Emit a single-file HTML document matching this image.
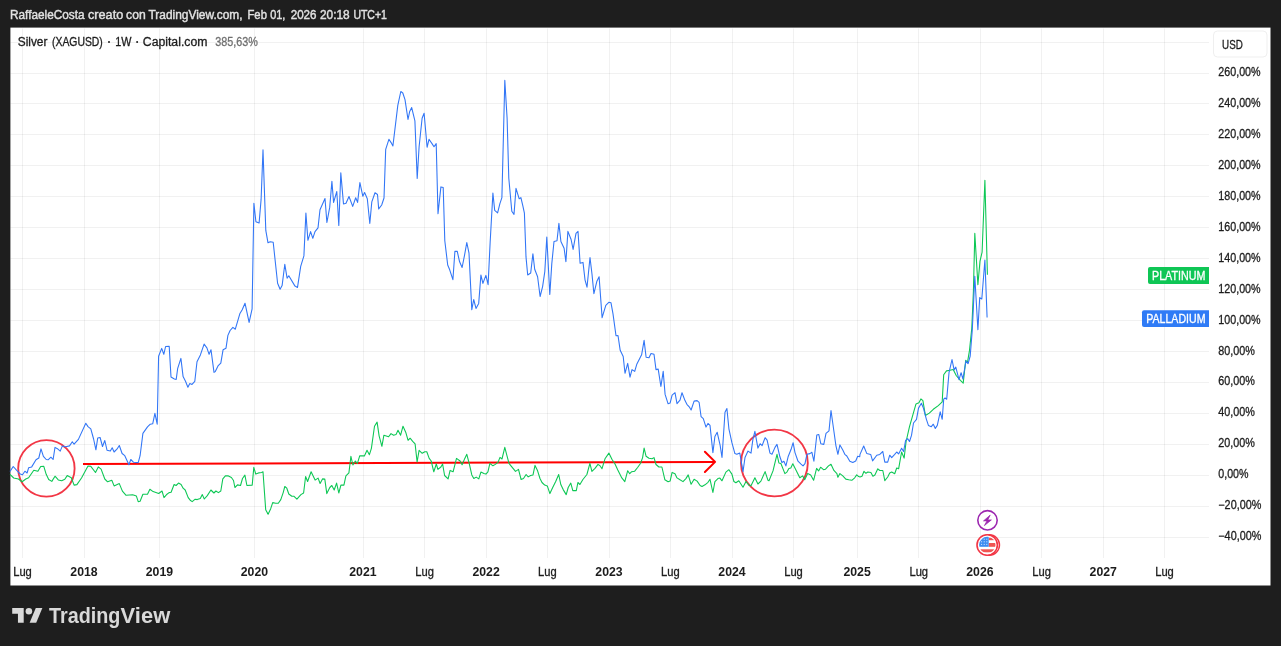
<!DOCTYPE html>
<html><head><meta charset="utf-8"><title>Chart</title>
<style>
html,body{margin:0;padding:0;background:#1e1e1e;}
body{width:1281px;height:646px;overflow:hidden;font-family:"Liberation Sans",sans-serif;}
svg{display:block;will-change:transform;}
text{font-family:"Liberation Sans",sans-serif;}
</style></head><body>
<svg width="1281" height="646" viewBox="0 0 1281 646">
<rect x="0" y="0" width="1281" height="646" fill="#1e1e1e"/>
<rect x="10.4" y="27.6" width="1260.1" height="557.9" fill="#ffffff"/>
<g stroke="#000000" stroke-opacity="0.054" stroke-width="1" fill="none">
<line x1="22.5" y1="28.5" x2="22.5" y2="558"/>
<line x1="84.5" y1="28.5" x2="84.5" y2="558"/>
<line x1="159.5" y1="28.5" x2="159.5" y2="558"/>
<line x1="254.5" y1="28.5" x2="254.5" y2="558"/>
<line x1="363.5" y1="28.5" x2="363.5" y2="558"/>
<line x1="424.5" y1="28.5" x2="424.5" y2="558"/>
<line x1="486.5" y1="28.5" x2="486.5" y2="558"/>
<line x1="547.5" y1="28.5" x2="547.5" y2="558"/>
<line x1="609.5" y1="28.5" x2="609.5" y2="558"/>
<line x1="670.5" y1="28.5" x2="670.5" y2="558"/>
<line x1="732.5" y1="28.5" x2="732.5" y2="558"/>
<line x1="793.5" y1="28.5" x2="793.5" y2="558"/>
<line x1="857.5" y1="28.5" x2="857.5" y2="558"/>
<line x1="918.5" y1="28.5" x2="918.5" y2="558"/>
<line x1="980.5" y1="28.5" x2="980.5" y2="558"/>
<line x1="1041.5" y1="28.5" x2="1041.5" y2="558"/>
<line x1="1103.5" y1="28.5" x2="1103.5" y2="558"/>
<line x1="1164.5" y1="28.5" x2="1164.5" y2="558"/>
<line x1="10.5" y1="42.5" x2="1209" y2="42.5"/>
<line x1="10.5" y1="73.5" x2="1209" y2="73.5"/>
<line x1="10.5" y1="103.5" x2="1209" y2="103.5"/>
<line x1="10.5" y1="134.5" x2="1209" y2="134.5"/>
<line x1="10.5" y1="165.5" x2="1209" y2="165.5"/>
<line x1="10.5" y1="196.5" x2="1209" y2="196.5"/>
<line x1="10.5" y1="227.5" x2="1209" y2="227.5"/>
<line x1="10.5" y1="258.5" x2="1209" y2="258.5"/>
<line x1="10.5" y1="289.5" x2="1209" y2="289.5"/>
<line x1="10.5" y1="320.5" x2="1209" y2="320.5"/>
<line x1="10.5" y1="351.5" x2="1209" y2="351.5"/>
<line x1="10.5" y1="382.5" x2="1209" y2="382.5"/>
<line x1="10.5" y1="413.5" x2="1209" y2="413.5"/>
<line x1="10.5" y1="444.5" x2="1209" y2="444.5"/>
<line x1="10.5" y1="475.5" x2="1209" y2="475.5"/>
<line x1="10.5" y1="506.5" x2="1209" y2="506.5"/>
<line x1="10.5" y1="537.5" x2="1209" y2="537.5"/>
</g>
<g fill="none" stroke="#f23645" stroke-width="1.85">
<circle cx="46.4" cy="468.4" r="28.2"/>
<circle cx="774.4" cy="463" r="33.4"/>
</g>
<g fill="none" stroke="#ff0000" stroke-width="2" stroke-linecap="butt" stroke-linejoin="miter">
<line x1="83" y1="464" x2="714.5" y2="461.9"/>
<path d="M704.9,451.7 L715.1,461.85 L704.9,472" stroke-linecap="round" stroke-linejoin="round"/>
</g>
<path d="M10,474.3 L13.7,478 L18.4,479 L22.1,481.8 L25.8,479 L28.6,477.7 L33.8,470.2 L37.9,471.2 L40.7,466.5 L43.8,466.3 L46.2,474.3 L48.7,479.5 L51.8,481.4 L55,476.2 L58.3,479.9 L61.7,480.8 L64.8,479.3 L67.2,475.6 L71.3,477.7 L74.1,485.1 L76.9,484.6 L81.5,478 L88,466 L90.8,466.3 L95.5,472.5 L98.3,466.9 L101.1,469.1 L104.8,479 L107.6,481.8 L111.8,480.3 L114.1,485.9 L119.3,483.6 L122.4,491.1 L126.1,495.3 L132.6,494.8 L136.4,496.1 L138.2,501.6 L140.1,501.3 L142.9,494.2 L147.5,494.2 L149.9,489.2 L153.1,491.6 L158.7,493.5 L162,491 L164,497.6 L167,494.2 L169.1,492.6 L171.1,492.2 L174.1,484.5 L176.1,485.5 L178.5,483.1 L181.1,484.5 L183.1,488.2 L185.2,490 L188.2,497.6 L190.2,500.2 L192.2,501.6 L195.2,499.2 L197.2,499.6 L200.3,498.6 L202.3,494.6 L204.3,499 L207.3,495.6 L210.9,490 L213.9,493 L215.9,491 L218.4,492.6 L220.8,491 L222.8,478.9 L225.4,475.9 L228.4,475.9 L231.4,477.5 L233.5,480.5 L234.9,487.5 L237.5,484.9 L240.5,485.5 L242.5,478.5 L244.9,475.1 L246.9,485.5 L252.2,485.1 L253.8,467.4 L255.8,474.1 L258.6,472.9 L261.6,472.5 L263,471.8 L265.7,509.7 L268.1,514.3 L270.7,508.7 L272.7,502.6 L275.7,503.2 L278.3,503.2 L280.8,499.6 L283.2,492.6 L284.8,486.5 L286.8,488.2 L288.8,494 L291.8,496.2 L293.8,496.2 L296.9,499.2 L300.9,494.6 L303.6,493 L305.6,476.5 L307.6,481.5 L311.1,471.8 L315.1,480.1 L318.1,478.1 L320.1,483.5 L322.5,478.9 L324.8,479.1 L326.8,493.6 L329.8,487.5 L331.8,485.5 L334.2,490 L336.6,483.1 L338.8,493 L340.9,485.1 L343.9,485.1 L345.9,475.9 L348.9,472.9 L350.9,456.4 L352.9,465 L355.3,461 L357.4,463.4 L359.8,455.7 L364.4,455.9 L367,450.3 L369.4,454.7 L371.4,448.3 L374.5,426.2 L377.1,422.1 L379.1,435.8 L381.9,446.3 L383.9,435.2 L388.6,436.8 L391,433.6 L393.6,435.2 L396,434.6 L398,430.2 L400.6,435.2 L403,426.2 L405.7,432.2 L408.1,440.3 L410.1,438.2 L412.7,441.3 L415.1,443.9 L417.1,462 L419.1,450.3 L422.2,453.3 L424.8,451.7 L426.8,451.7 L429.2,458.4 L431.2,461 L433.8,471.8 L436.3,464 L437.9,469.4 L440.9,467 L442.6,464 L444.6,475.5 L448.1,478.9 L450.1,470.4 L453.1,471.8 L456.5,458.4 L460.1,461 L462.1,464.8 L464.8,458.4 L466.8,454.3 L469.2,463.4 L471.8,474.9 L473.8,478.5 L476.2,477.1 L478.8,478.9 L480.9,472.1 L483.9,473.5 L485.9,474.1 L487.9,471.8 L489.9,463.4 L492.9,465.8 L495.3,464.4 L498,462.4 L500,457.4 L502,459 L504.8,447.3 L507,455.9 L509,463.4 L511.4,466.4 L515.5,471.4 L518.5,469.4 L521.1,479.5 L523.5,478.5 L526.1,474.5 L528.2,476.9 L530.6,475.5 L533,474.9 L535,465.4 L537.6,470.8 L540,478.5 L542,482.5 L544.7,485.1 L547.3,485.9 L549.9,493.6 L552.7,487.5 L555.7,481.5 L558.7,474.5 L560.8,484.5 L563.2,489.6 L566.2,494.6 L568.2,487.5 L570.8,483.1 L572.8,490.6 L576.3,490.6 L577.9,482.5 L579.9,484.5 L582.9,479.5 L586.9,474.5 L589.9,463.4 L591.9,471.4 L595,468.4 L598,464.4 L600,465.7 L602,468.7 L605,458.8 L608.9,453.1 L611.9,459.3 L614.9,463.7 L617.8,469.9 L621.8,477.9 L624.8,481.6 L627.7,470.7 L629.7,473.7 L631.7,471.7 L634.7,471.2 L637.6,467.5 L640.6,463.3 L642.6,457.6 L644.1,448.1 L646.1,456.3 L649,458.3 L652,458.8 L654,457.6 L656,464.5 L658.9,467 L661.9,467 L664.9,479.8 L668.1,481.8 L670.1,481.1 L672.1,472.4 L675,473.7 L677,477.9 L680,479.8 L683,481.6 L685.9,478.6 L688.2,474.9 L691.1,484.3 L694.1,479.3 L697.1,481.1 L700.1,485.5 L702,486.5 L705,484.8 L708,482.3 L710,479.3 L712.9,492.5 L714.9,481.6 L717.9,478.6 L719.9,478.1 L722,480.8 L725.9,472.1 L728.9,469.7 L731.9,474.1 L733.9,481.5 L735.9,482.8 L738.8,480.8 L743,487.2 L746,481.5 L749,485.3 L751,485.8 L754.9,477.8 L757.9,484 L760.9,481.1 L765.1,471.6 L768,480.3 L769,480.8 L773,470.9 L777,454.3 L778.9,463 L780.9,463.5 L784.9,473.6 L786.9,472.1 L788.9,468.4 L790.8,467.9 L792.8,463.7 L795.8,469.7 L799.8,477.8 L802.7,475.9 L804.7,479.8 L807.7,473.6 L810.7,474.9 L813.6,480.3 L816.6,468.4 L818.6,470.9 L820.6,467.2 L823.5,469.7 L825.5,469.2 L828.5,465.9 L831,464.2 L833.9,470.4 L836.9,473.6 L837.9,477.3 L839.9,473.6 L842.8,475.9 L845.8,479.1 L848.8,479.8 L851.8,480.3 L854.7,477.8 L856.7,474.9 L858.7,476.6 L860,477 L862,476.2 L864,471.3 L865.9,473.3 L867.9,472 L870.9,472.5 L872.9,476.2 L874.9,475 L877.8,468.8 L879.8,470.5 L882.8,470.5 L884.8,480.7 L887.7,477 L889.7,473 L891.7,472 L894.7,473.7 L896.7,468 L898.6,468.8 L901.6,452 L904.1,458.1 L906.1,441.5 L909.5,426.7 L913,414.3 L916,403.9 L918.9,402.7 L920.9,398.9 L922.9,400.7 L925.4,415.5 L929.3,413.1 L933.3,409.3 L938.3,405.6 L942.2,401.9 L943.7,374.8 L946.5,370.9 L950,370.3 L953.2,369.5 L956.2,375.5 L960.4,380.4 L963.2,383.1 L965.7,360.4 L967.4,362.9 L969.5,350.4 L971.8,328.1 L973.4,291.8 L974.8,233.4 L977.9,284.6 L980,261.1 L982.1,252.2 L984.9,180.2 L987.4,274.8" fill="none" stroke="#0cc754" stroke-width="1.08" stroke-linejoin="round" stroke-linecap="butt"/>
<path d="M10,471.5 L13.2,466.5 L16.5,470.2 L20.2,474 L22.5,474.7 L24.9,471.2 L27.1,473 L28.6,467.8 L31.7,466.9 L36,459.8 L38.8,458 L41,448.9 L43.4,456.3 L46.2,459.5 L48.1,459.8 L50.9,457.2 L53.1,459.5 L55,447.4 L57.4,448.7 L60.2,451.1 L62.4,445.9 L65.7,446.8 L69.5,445.9 L72.3,441.8 L74.1,444.2 L78.4,439.4 L85.8,423.2 L88,426.6 L90.8,428.8 L93.6,439 L95.9,449.8 L97.7,438.1 L100.1,437.5 L102.5,446.5 L104.8,440.5 L107,450.2 L110.3,451.1 L112.2,447.8 L114.1,452 L116.9,449.2 L119.3,445.5 L122.1,453.5 L124.8,455.7 L128.9,464.7 L130.8,459.5 L133.6,462.3 L138.2,462.6 L140.1,455.7 L142.9,433.4 L147.5,426.9 L150.3,424.2 L152.7,423.8 L154.9,413.4 L157.2,424.2 L158.6,356.2 L161.7,348.4 L163.8,354.3 L165.6,346.5 L169.2,346.3 L171,377 L174.4,379 L176.2,379.4 L177.7,368.3 L180.9,358.4 L183.1,376.6 L185.5,381.3 L187.9,387.2 L189.8,383.5 L192,384.4 L194.8,381.3 L197,361.8 L200.4,354.9 L204.1,344.1 L206.9,347.8 L209.1,354.3 L211,349.7 L214,372.4 L215.3,371.6 L218,365.9 L220.8,363.1 L223.1,349.7 L226,348.2 L227.9,335.4 L230.1,330.5 L232.9,327.4 L235.3,329.2 L239.8,313.8 L242.2,309.7 L245,303.2 L249.1,322.4 L252.1,308.8 L253.9,203.2 L255.9,221.7 L259.1,223 L261.1,199.4 L263,149.9 L265.8,230.4 L268,242.8 L270.2,241.8 L273.2,242.3 L277.6,283.2 L280.1,289.3 L282.1,285.6 L284.8,264.3 L287.1,278.2 L288.8,275.7 L295,286.1 L297.5,287.4 L300.7,266.3 L303.9,255.9 L305.9,213.1 L307.9,240.3 L310.6,231.6 L312.8,238.3 L315,231.6 L318,227.9 L320,209.8 L325,198.5 L326.9,222.5 L329.7,207.4 L331.9,181.4 L333.6,202.4 L336.8,191.5 L338.8,225.4 L340.8,172.9 L343.5,203.9 L346,203.2 L349,196.5 L352.7,206.4 L355.7,197.7 L357.6,202.4 L359.9,182.6 L362.8,196.2 L364.6,192.5 L367.3,198.7 L369.8,223.5 L371.8,201.9 L375,192.8 L377.5,194.5 L378.7,208.9 L381.7,205 L384,198 L385.7,149.3 L388.9,139.3 L391.1,142.6 L392.9,146 L397.8,105.4 L400.8,91.5 L402.8,93 L405,99.7 L408,119.5 L409.7,111.4 L411.7,107.6 L414.9,120.8 L417.2,178.5 L419.1,146.8 L422.1,118.3 L424.1,113.3 L427.1,147.3 L429,139.3 L432,143.6 L434,146.8 L436.2,143.6 L438,213.7 L440.9,186.9 L443.2,187.6 L444.8,240.8 L447.7,265 L449.7,269.8 L452.9,279.7 L454.9,251.4 L457.2,251.2 L459.6,261.8 L462.1,267.5 L464.6,254.9 L466.8,242.5 L469,253.2 L471.8,309.6 L473.7,299.5 L476,308.4 L478.7,303.4 L480.9,275 L482.9,283.4 L485.9,275.4 L488.1,284.6 L490.1,243.3 L492.9,193.1 L494.7,210.4 L497.6,212.9 L499.9,203.7 L501.9,197.6 L504.8,80.4 L507.1,118.3 L508.8,178.2 L511.8,211.2 L514,214.4 L516,188.4 L519.2,198.8 L520.9,197.6 L522.9,206.2 L524.4,213.2 L526,256.9 L527.7,275 L530.7,273 L532.9,253.7 L534.7,269.3 L537.6,276.7 L540.1,296.5 L542.6,286.6 L544.8,271.7 L546.8,237.1 L549.8,294.5 L551.8,263.6 L554,241.5 L557,240.8 L558.9,223.4 L560.9,241.5 L564.1,248.2 L565.9,261.8 L567.9,231.4 L571.1,239.5 L573.1,249.4 L576,233.3 L578,231.4 L580.1,263.2 L583,262.4 L585,279.8 L587,287.2 L590,257.5 L592,274.3 L593.9,293.6 L596.9,281.2 L599.1,276.8 L602.1,317.6 L605.8,305.3 L608.8,302.3 L611,302.8 L613,313.9 L616,335.7 L618,335.5 L620.2,350.3 L623.2,356.5 L625,373.3 L627.7,363.4 L630,377.1 L632,369.6 L634.7,371.4 L636.9,363.9 L641.6,354.8 L644.1,340.4 L646.1,357.2 L649,357.7 L651,353.5 L654,354.3 L656,369.6 L658.2,369.1 L660.9,386.5 L663.2,371.4 L665.1,394.4 L668.1,403.8 L670.1,403.1 L672.1,395.1 L675,392.7 L677,403.6 L680,400.1 L682,392.7 L685,400.6 L686.9,404.3 L689.2,406.8 L691.1,410 L694.1,401.1 L697.1,400.6 L699.1,402.3 L701.1,416.7 L703.3,418.7 L706,427.1 L708,423.4 L710,425.4 L712.9,452.6 L714.9,436.5 L717.2,432.3 L720.1,445.2 L722,457.5 L725,412.2 L726.9,408.5 L728.9,428.8 L731.9,442.7 L734.9,453.6 L736.8,454.3 L739.8,453.1 L743,471.6 L745,457.5 L748,451.1 L751,453.1 L752.9,439.4 L754.9,431.3 L757.9,448.1 L760.1,443.7 L762.1,445.6 L765.1,437.7 L767.1,440.2 L770,453.1 L772,454.3 L775,447.4 L777,444.4 L779.9,456.8 L781.9,462.5 L783.9,461.2 L785.9,465.9 L788.1,456.8 L791.1,449.3 L793.1,442.7 L795,452.6 L798,461.2 L801,464.2 L803,465.9 L805,463.7 L806.9,454.3 L809.9,453.6 L811.9,452.3 L813.9,461.2 L816.8,435 L818.8,434.5 L820.8,443.7 L823.8,444.4 L826,433.3 L829,430.8 L831,410.5 L833.9,431.3 L835.9,445.6 L837.9,454.3 L839.9,444.9 L842.8,450.1 L844.8,454.3 L846.8,456 L849.8,461.2 L852.8,462.5 L855.7,461 L857.7,456.3 L859.7,456.8 L860,454.4 L863.7,446 L866.7,453.4 L870.7,454.4 L872.6,460.9 L876.8,455.2 L879.8,454.4 L882.8,451.5 L884.8,462.1 L887.7,462.1 L889.7,455.2 L891.7,457.6 L894.7,454.4 L896.7,452 L898.6,453.9 L901.6,448.2 L903.6,451.5 L905.6,440.3 L907.6,438.6 L909.5,441.5 L911.5,435.4 L913.5,423 L916.5,419.3 L918.5,408.1 L921.4,403.2 L923.4,408.1 L926.4,419.3 L928.4,425.4 L931.3,426.7 L933.3,424.2 L935.3,428.4 L937.3,425.4 L940.2,411.8 L942.2,419.3 L943.7,399.2 L945.1,398 L946.7,399.2 L949,372.7 L952,359.5 L954.1,369.9 L955.8,367.1 L959,379.7 L961.1,372.7 L962.9,379 L966,360.9 L968.1,363.6 L970.2,356 L972.2,330.9 L973.2,311.3 L974.8,276.2 L977.9,329.7 L979.7,297.6 L981.8,299 L984.9,260 L987.1,317.6" fill="none" stroke="#3276f6" stroke-width="1.08" stroke-linejoin="round" stroke-linecap="butt"/>
<text x="10.0" y="19" font-size="12" fill="#e2e2e2" stroke="#e2e2e2" stroke-width="0.4" textLength="74.6" lengthAdjust="spacingAndGlyphs">RaffaeleCosta</text>
<text x="88.0" y="19" font-size="12" fill="#e2e2e2" stroke="#e2e2e2" stroke-width="0.4" textLength="35.2" lengthAdjust="spacingAndGlyphs">creato</text>
<text x="126.1" y="19" font-size="12" fill="#e2e2e2" stroke="#e2e2e2" stroke-width="0.4" textLength="19.6" lengthAdjust="spacingAndGlyphs">con</text>
<text x="148.5" y="19" font-size="12" fill="#e2e2e2" stroke="#e2e2e2" stroke-width="0.4" textLength="94.0" lengthAdjust="spacingAndGlyphs">TradingView.com,</text>
<text x="247.5" y="19" font-size="12" fill="#e2e2e2" stroke="#e2e2e2" stroke-width="0.4" textLength="19.4" lengthAdjust="spacingAndGlyphs">Feb</text>
<text x="270.2" y="19" font-size="12" fill="#e2e2e2" stroke="#e2e2e2" stroke-width="0.4" textLength="15.2" lengthAdjust="spacingAndGlyphs">01,</text>
<text x="290.7" y="19" font-size="12" fill="#e2e2e2" stroke="#e2e2e2" stroke-width="0.4" textLength="25.8" lengthAdjust="spacingAndGlyphs">2026</text>
<text x="320.0" y="19" font-size="12" fill="#e2e2e2" stroke="#e2e2e2" stroke-width="0.4" textLength="29.7" lengthAdjust="spacingAndGlyphs">20:18</text>
<text x="353.4" y="19" font-size="12" fill="#e2e2e2" stroke="#e2e2e2" stroke-width="0.4" textLength="33.5" lengthAdjust="spacingAndGlyphs">UTC+1</text>
<text x="17.8" y="46" font-size="12" fill="#1c1c1c" stroke="#1c1c1c" stroke-width="0.3" textLength="29.6" lengthAdjust="spacingAndGlyphs">Silver</text>
<text x="52.0" y="46" font-size="12" fill="#1c1c1c" stroke="#1c1c1c" stroke-width="0.3" textLength="50.8" lengthAdjust="spacingAndGlyphs">(XAGUSD)</text>
<text x="115.3" y="46" font-size="12" fill="#1c1c1c" stroke="#1c1c1c" stroke-width="0.3" textLength="16.2" lengthAdjust="spacingAndGlyphs">1W</text>
<text x="142.8" y="46" font-size="12" fill="#1c1c1c" stroke="#1c1c1c" stroke-width="0.3" textLength="64.6" lengthAdjust="spacingAndGlyphs">Capital.com</text>
<circle cx="109" cy="42" r="1" fill="#1c1c1c"/><circle cx="137.1" cy="42" r="1" fill="#1c1c1c"/>
<text x="215.2" y="46" font-size="12" fill="#707070" stroke="#707070" stroke-width="0.3" textLength="42.6" lengthAdjust="spacingAndGlyphs">385,63%</text>
<rect x="1213.5" y="31" width="53.5" height="26" rx="4" ry="4" fill="#ffffff" stroke="#efefef" stroke-width="1"/>
<text x="1222.1" y="48.6" font-size="12" fill="#1c1c1c" stroke="#1c1c1c" stroke-width="0.3" textLength="20.7" lengthAdjust="spacingAndGlyphs">USD</text>
<text x="1218.3" y="76.0" font-size="12" fill="#1c1c1c" stroke="#1c1c1c" stroke-width="0.3" textLength="42.3" lengthAdjust="spacingAndGlyphs">260,00%</text>
<text x="1218.3" y="106.9" font-size="12" fill="#1c1c1c" stroke="#1c1c1c" stroke-width="0.3" textLength="42.3" lengthAdjust="spacingAndGlyphs">240,00%</text>
<text x="1218.3" y="137.9" font-size="12" fill="#1c1c1c" stroke="#1c1c1c" stroke-width="0.3" textLength="42.3" lengthAdjust="spacingAndGlyphs">220,00%</text>
<text x="1218.3" y="168.8" font-size="12" fill="#1c1c1c" stroke="#1c1c1c" stroke-width="0.3" textLength="42.3" lengthAdjust="spacingAndGlyphs">200,00%</text>
<text x="1218.3" y="199.8" font-size="12" fill="#1c1c1c" stroke="#1c1c1c" stroke-width="0.3" textLength="42.3" lengthAdjust="spacingAndGlyphs">180,00%</text>
<text x="1218.3" y="230.7" font-size="12" fill="#1c1c1c" stroke="#1c1c1c" stroke-width="0.3" textLength="42.3" lengthAdjust="spacingAndGlyphs">160,00%</text>
<text x="1218.3" y="261.6" font-size="12" fill="#1c1c1c" stroke="#1c1c1c" stroke-width="0.3" textLength="42.3" lengthAdjust="spacingAndGlyphs">140,00%</text>
<text x="1218.3" y="292.6" font-size="12" fill="#1c1c1c" stroke="#1c1c1c" stroke-width="0.3" textLength="42.3" lengthAdjust="spacingAndGlyphs">120,00%</text>
<text x="1218.3" y="323.5" font-size="12" fill="#1c1c1c" stroke="#1c1c1c" stroke-width="0.3" textLength="42.3" lengthAdjust="spacingAndGlyphs">100,00%</text>
<text x="1218.3" y="354.5" font-size="12" fill="#1c1c1c" stroke="#1c1c1c" stroke-width="0.3" textLength="36.6" lengthAdjust="spacingAndGlyphs">80,00%</text>
<text x="1218.3" y="385.4" font-size="12" fill="#1c1c1c" stroke="#1c1c1c" stroke-width="0.3" textLength="36.6" lengthAdjust="spacingAndGlyphs">60,00%</text>
<text x="1218.3" y="416.3" font-size="12" fill="#1c1c1c" stroke="#1c1c1c" stroke-width="0.3" textLength="36.6" lengthAdjust="spacingAndGlyphs">40,00%</text>
<text x="1218.3" y="447.3" font-size="12" fill="#1c1c1c" stroke="#1c1c1c" stroke-width="0.3" textLength="36.6" lengthAdjust="spacingAndGlyphs">20,00%</text>
<text x="1218.3" y="478.2" font-size="12" fill="#1c1c1c" stroke="#1c1c1c" stroke-width="0.3" textLength="30.2" lengthAdjust="spacingAndGlyphs">0,00%</text>
<text x="1218.3" y="509.2" font-size="12" fill="#1c1c1c" stroke="#1c1c1c" stroke-width="0.3" textLength="43" lengthAdjust="spacingAndGlyphs">−20,00%</text>
<text x="1218.3" y="540.1" font-size="12" fill="#1c1c1c" stroke="#1c1c1c" stroke-width="0.3" textLength="43" lengthAdjust="spacingAndGlyphs">−40,00%</text>
<text x="22.5" y="576" font-size="12" text-anchor="middle" fill="#1c1c1c" stroke="#1c1c1c" stroke-width="0.3" textLength="18.6" lengthAdjust="spacingAndGlyphs">Lug</text>
<text x="84.0" y="576" font-size="12" font-weight="bold" text-anchor="middle" fill="#1c1c1c" textLength="27.3" lengthAdjust="spacingAndGlyphs">2018</text>
<text x="159.4" y="576" font-size="12" font-weight="bold" text-anchor="middle" fill="#1c1c1c" textLength="27.3" lengthAdjust="spacingAndGlyphs">2019</text>
<text x="254.4" y="576" font-size="12" font-weight="bold" text-anchor="middle" fill="#1c1c1c" textLength="27.3" lengthAdjust="spacingAndGlyphs">2020</text>
<text x="362.9" y="576" font-size="12" font-weight="bold" text-anchor="middle" fill="#1c1c1c" textLength="27.3" lengthAdjust="spacingAndGlyphs">2021</text>
<text x="424.6" y="576" font-size="12" text-anchor="middle" fill="#1c1c1c" stroke="#1c1c1c" stroke-width="0.3" textLength="18.6" lengthAdjust="spacingAndGlyphs">Lug</text>
<text x="486.1" y="576" font-size="12" font-weight="bold" text-anchor="middle" fill="#1c1c1c" textLength="27.3" lengthAdjust="spacingAndGlyphs">2022</text>
<text x="547.4" y="576" font-size="12" text-anchor="middle" fill="#1c1c1c" stroke="#1c1c1c" stroke-width="0.3" textLength="18.6" lengthAdjust="spacingAndGlyphs">Lug</text>
<text x="609.0" y="576" font-size="12" font-weight="bold" text-anchor="middle" fill="#1c1c1c" textLength="27.3" lengthAdjust="spacingAndGlyphs">2023</text>
<text x="670.3" y="576" font-size="12" text-anchor="middle" fill="#1c1c1c" stroke="#1c1c1c" stroke-width="0.3" textLength="18.6" lengthAdjust="spacingAndGlyphs">Lug</text>
<text x="732.0" y="576" font-size="12" font-weight="bold" text-anchor="middle" fill="#1c1c1c" textLength="27.3" lengthAdjust="spacingAndGlyphs">2024</text>
<text x="793.5" y="576" font-size="12" text-anchor="middle" fill="#1c1c1c" stroke="#1c1c1c" stroke-width="0.3" textLength="18.6" lengthAdjust="spacingAndGlyphs">Lug</text>
<text x="857.1" y="576" font-size="12" font-weight="bold" text-anchor="middle" fill="#1c1c1c" textLength="27.3" lengthAdjust="spacingAndGlyphs">2025</text>
<text x="918.75" y="576" font-size="12" text-anchor="middle" fill="#1c1c1c" stroke="#1c1c1c" stroke-width="0.3" textLength="18.6" lengthAdjust="spacingAndGlyphs">Lug</text>
<text x="979.9" y="576" font-size="12" font-weight="bold" text-anchor="middle" fill="#1c1c1c" textLength="27.3" lengthAdjust="spacingAndGlyphs">2026</text>
<text x="1041.6" y="576" font-size="12" text-anchor="middle" fill="#1c1c1c" stroke="#1c1c1c" stroke-width="0.3" textLength="18.6" lengthAdjust="spacingAndGlyphs">Lug</text>
<text x="1103.25" y="576" font-size="12" font-weight="bold" text-anchor="middle" fill="#1c1c1c" textLength="27.3" lengthAdjust="spacingAndGlyphs">2027</text>
<text x="1164.5" y="576" font-size="12" text-anchor="middle" fill="#1c1c1c" stroke="#1c1c1c" stroke-width="0.3" textLength="18.6" lengthAdjust="spacingAndGlyphs">Lug</text>
<path d="M1150,267.1 H1209 V283.9 H1150 a2,2 0 0 1 -2,-2 V269.1 a2,2 0 0 1 2,-2 Z" fill="#0fc655"/>
<text x="1152.0" y="279.8" font-size="12" fill="#ffffff" stroke="#ffffff" stroke-width="0.3" textLength="53.4" lengthAdjust="spacingAndGlyphs">PLATINUM</text>
<path d="M1144,310.2 H1209 V326.9 H1144 a2,2 0 0 1 -2,-2 V312.2 a2,2 0 0 1 2,-2 Z" fill="#2f7bf6"/>
<text x="1146.2" y="322.7" font-size="12" fill="#ffffff" stroke="#ffffff" stroke-width="0.3" textLength="59.3" lengthAdjust="spacingAndGlyphs">PALLADIUM</text>
<circle cx="987.5" cy="520.3" r="9.7" fill="#ffffff" stroke="#9c27b0" stroke-width="1.6"/>
<path d="M990.2,515.1 L983.5,520.9 L987.0,520.9 L984.4,525.6 L991.4,519.9 L987.8,519.9 Z" fill="#9c27b0" stroke="#9c27b0" stroke-width="0.7" stroke-linejoin="round"/>
<defs><clipPath id="fc"><circle cx="987.3" cy="545" r="8.2"/></clipPath></defs>
<circle cx="989.3" cy="545" r="10.2" fill="#ffffff" stroke="#f23645" stroke-width="1.4"/>
<circle cx="987.2" cy="545" r="10.2" fill="#ffffff" stroke="#f23645" stroke-width="1.6"/>
<g clip-path="url(#fc)">
<rect x="976" y="535" width="24" height="20" fill="#ffffff"/>
<rect x="988.7" y="537.6" width="12" height="2.6" fill="#f05452"/>
<rect x="988.7" y="543" width="12" height="3.8" fill="#f05452"/>
<rect x="976" y="549.3" width="24" height="3" fill="#f05452"/>
<rect x="976" y="536" width="12.7" height="10.8" fill="#3d8df0"/>
<rect x="981.1" y="538.7" width="1" height="1" fill="#dcebff"/>
<rect x="983.7" y="538.7" width="1" height="1" fill="#dcebff"/>
<rect x="986.3" y="538.7" width="1" height="1" fill="#dcebff"/>
<rect x="981.1" y="541.3" width="1" height="1" fill="#dcebff"/>
<rect x="983.7" y="541.3" width="1" height="1" fill="#dcebff"/>
<rect x="986.3" y="541.3" width="1" height="1" fill="#dcebff"/>
<rect x="981.1" y="543.9" width="1" height="1" fill="#dcebff"/>
<rect x="983.7" y="543.9" width="1" height="1" fill="#dcebff"/>
<rect x="986.3" y="543.9" width="1" height="1" fill="#dcebff"/>
</g>
<g transform="translate(12.2,604.7) scale(0.822)" fill="#d9d9d9"><path d="M14 22H7V11H0V4h14v18z"/><circle cx="20.3" cy="8" r="4"/><path d="M29.2 22h-8l7.5-18h8L29.2 22z"/></g>
<text x="49" y="623" font-size="21.8" font-weight="bold" fill="#d9d9d9" textLength="71.4" lengthAdjust="spacingAndGlyphs">Trading</text>
<text x="120.6" y="623" font-size="21.8" font-weight="bold" fill="#d9d9d9" textLength="49.6" lengthAdjust="spacingAndGlyphs">View</text>
</svg></body></html>
